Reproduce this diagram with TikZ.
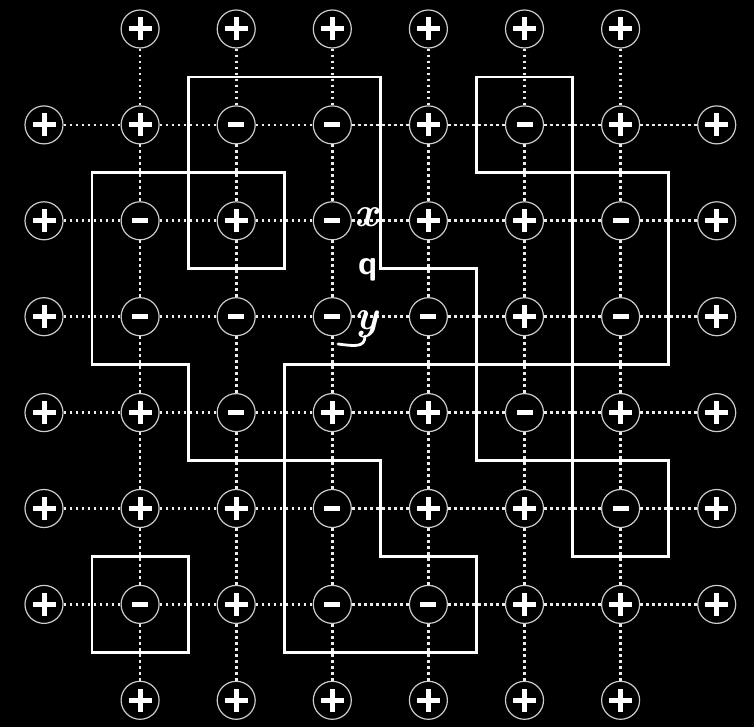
\documentclass[tikz,border=0pt]{standalone}
\begin{document}
\begin{tikzpicture}[x=1pt,y=1pt,
  spin/.style={circle,draw=white!80!black,line width=1.2pt,fill=black,minimum size=38pt,inner sep=0pt},
  bond/.style={white!92!black,line width=2.6pt,dash pattern=on 2.6pt off 3.4pt},
  wall/.style={white,line width=2.8pt,line join=miter},
  sym/.style={white,line width=5pt},
  lab/.style={text=white,inner sep=0pt,anchor=base}]
\fill[black] (0,0) rectangle (754,-727);
\useasboundingbox (0,0) rectangle (754,-727);
\begin{scope}[shift={(44,-29)},x=96.1pt,y=-95.9pt]
  % plus spins (interior and boundary)
  \foreach \c/\r in {1/1,4/1,6/1, 2/2,4/2,5/2, 5/3, 1/4,3/4,4/4,6/4, 1/5,2/5,4/5,5/5, 2/6,5/6,6/6,
                     1/0,2/0,3/0,4/0,5/0,6/0, 1/7,2/7,3/7,4/7,5/7,6/7,
                     0/1,0/2,0/3,0/4,0/5,0/6, 7/1,7/2,7/3,7/4,7/5,7/6}{
    \node[spin] (n\c-\r) at (\c,\r) {};
    \draw[sym] ([xshift=-11.5pt]n\c-\r.center) -- ([xshift=11.5pt]n\c-\r.center);
    \draw[sym] ([yshift=-11.5pt]n\c-\r.center) -- ([yshift=11.5pt]n\c-\r.center);
  }
  % minus spins
  \foreach \c/\r in {2/1,3/1,5/1, 1/2,3/2,6/2, 1/3,2/3,3/3,4/3,6/3, 2/4,5/4, 3/5,6/5, 1/6,3/6,4/6}{
    \node[spin] (n\c-\r) at (\c,\r) {};
    \draw[white,line width=4.8pt] ([xshift=-8pt]n\c-\r.center) -- ([xshift=8pt]n\c-\r.center);
  }
  % bonds
  \foreach \r in {1,...,6}{
    \foreach \c [evaluate=\c as \cc using int(\c+1)] in {0,...,6}{
      \draw[bond] (n\c-\r) -- (n\cc-\r);
    }
  }
  \foreach \c in {1,...,6}{
    \foreach \r [evaluate=\r as \rr using int(\r+1)] in {0,...,6}{
      \draw[bond] (n\c-\r) -- (n\c-\rr);
    }
  }
  % domain walls
  \draw[wall] (1.5,0.5) -- (3.5,0.5) -- (3.5,2.5) -- (4.5,2.5) -- (4.5,3.5) -- (2.5,3.5) -- (2.5,4.5)
              -- (1.5,4.5) -- (1.5,3.5) -- (0.5,3.5) -- (0.5,1.5) -- (1.5,1.5) -- cycle;
  \draw[wall] (1.5,1.5) rectangle (2.5,2.5);
  \draw[wall] (4.5,0.5) rectangle (5.5,1.5);
  \draw[wall] (5.5,1.5) rectangle (6.5,3.5);
  \draw[wall] (4.5,3.5) rectangle (5.5,4.5);
  \draw[wall] (5.5,4.5) rectangle (6.5,5.5);
  \draw[wall] (2.5,4.5) -- (3.5,4.5) -- (3.5,5.5) -- (4.5,5.5) -- (4.5,6.5) -- (2.5,6.5) -- cycle;
  \draw[wall] (0.5,5.5) rectangle (1.5,6.5);
\end{scope}
% labels
\node[lab] (lx) at (366,-227) {\fontsize{42}{42}\selectfont\bfseries\itshape x};
\node[lab] (lq) at (368,-274) {\fontsize{34}{34}\selectfont\sffamily\bfseries q};
\node[lab] (ly) at (366,-329) {\fontsize{42}{42}\selectfont\bfseries\itshape y};
\draw[white,line width=2.8pt,line cap=round] (ly.base) ++(-1,-7) .. controls +(0,-12) and +(16,-2) .. (338,-344);
\end{tikzpicture}
\end{document}
